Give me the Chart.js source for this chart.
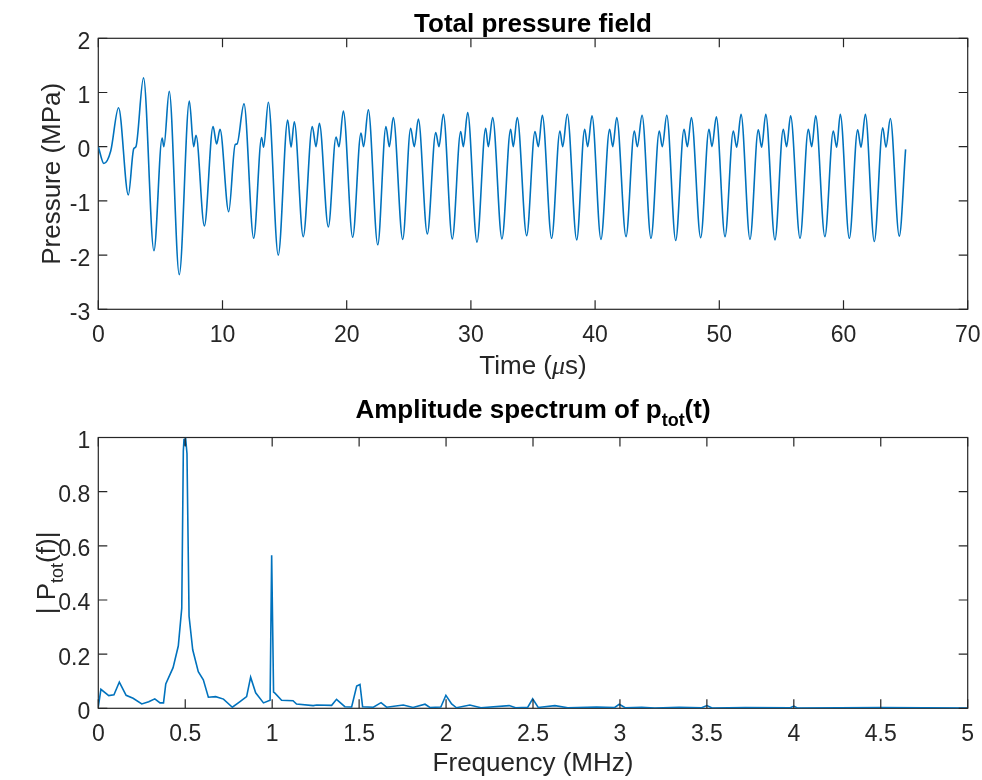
<!DOCTYPE html>
<html>
<head>
<meta charset="utf-8">
<script src="https://cdn.jsdelivr.net/npm/chart.js@4.4.0/dist/chart.umd.min.js"></script>
<style>
  body { margin: 0; background: #fff; width: 982px; height: 780px; overflow: hidden; position: relative; }
  canvas { position: absolute; left: 0; }
  #topChart { top: 0; }
  #botChart { top: 390px; }
</style>
</head>
<body>
<canvas id="topChart" width="982" height="390"></canvas>
<canvas id="botChart" width="982" height="390"></canvas>
<script>
// total pressure field (peaks, dips and troughs)
const timeUs = [
  0, 0.45, 1.0, 1.63, 2.42, 2.85, 3.03, 3.64, 4.48, 5.14, 5.28, 5.71,
  6.52, 7.33, 7.68, 7.87, 8.54, 9.24, 9.53, 9.8, 10.5, 11.02, 11.17, 11.73,
  12.51, 13.15, 13.31, 13.69, 14.49, 15.25, 15.52, 15.78,
  16.5, 17.23, 17.53, 17.8, 18.52, 19.14, 19.38, 19.73,
  20.48, 21.15, 21.36, 21.74, 22.5, 23.16, 23.43, 23.75,
  24.51, 25.15, 25.44, 25.77, 26.49, 27.17, 27.43, 27.78,
  28.5, 29.18, 29.39, 29.74, 30.49, 31.19, 31.4, 31.75,
  32.5, 33.2, 33.41, 33.73, 34.49, 35.16, 35.43, 35.75,
  36.5, 37.17, 37.39, 37.76, 38.52, 39.16, 39.4, 39.75,
  40.47, 41.17, 41.42, 41.74, 42.49, 43.16, 43.4, 43.78,
  44.5, 45.17, 45.41, 45.77, 46.49, 47.16, 47.43, 47.75,
  48.5, 49.17, 49.41, 49.76, 50.46, 51.13, 51.4, 51.75,
  52.47, 53.14, 53.41, 53.74, 54.48, 55.15, 55.42, 55.74,
  56.5, 57.17, 57.44, 57.76, 58.5, 59.18, 59.45, 59.74,
  60.47, 61.14, 61.41, 61.76, 62.48, 63.16, 63.42, 63.77,
  64.49, 65.0
];
const pressureMPa = [
  0, -0.31, -0.08, 0.72, -0.89, -0.04, 0.0, 1.27, -1.92, 0.16, 0.0, 1.02,
  -2.36, 0.84, 0.0, 0.21, -1.46, 0.37, 0.05, 0.32, -1.2, 0.04, 0.05, 0.79,
  -1.69, 0.17, -0.01, 0.82, -2.0, 0.49, -0.01, 0.46,
  -1.66, 0.37, 0.0, 0.43, -1.48, 0.18, 0.0, 0.66,
  -1.67, 0.25, 0.0, 0.68, -1.81, 0.37, 0.0, 0.54,
  -1.71, 0.34, 0.0, 0.51, -1.61, 0.26, 0.0, 0.6,
  -1.7, 0.28, 0.0, 0.63, -1.76, 0.34, 0.0, 0.54,
  -1.7, 0.32, 0.0, 0.54, -1.64, 0.28, 0.0, 0.58,
  -1.69, 0.29, 0.0, 0.6, -1.72, 0.32, 0.0, 0.57,
  -1.71, 0.32, 0.0, 0.54, -1.66, 0.29, 0.0, 0.58,
  -1.69, 0.29, 0.0, 0.58, -1.73, 0.32, 0.0, 0.54,
  -1.68, 0.32, 0.0, 0.55, -1.66, 0.29, -0.01, 0.6,
  -1.71, 0.31, -0.01, 0.6, -1.72, 0.32, 0.0, 0.57,
  -1.69, 0.32, 0.0, 0.57, -1.66, 0.29, -0.01, 0.6,
  -1.69, 0.31, -0.01, 0.6, -1.75, 0.35, -0.01, 0.52,
  -1.65, -0.05
];

// amplitude spectrum
const freqMHz = [
  0, 0.015, 0.06, 0.09, 0.121, 0.16, 0.2, 0.25, 0.29, 0.325, 0.355, 0.375,
  0.388, 0.43, 0.46, 0.48, 0.489, 0.493, 0.497, 0.502, 0.51, 0.522, 0.543,
  0.575, 0.604, 0.633, 0.675, 0.72, 0.771, 0.815, 0.853, 0.876, 0.905, 0.95,
  0.988, 0.997, 1.008, 1.016, 1.054, 1.12, 1.14, 1.236, 1.256, 1.342, 1.37,
  1.418, 1.457, 1.486, 1.505, 1.52, 1.582, 1.626, 1.658, 1.754, 1.81, 1.879,
  1.907, 1.97, 1.999, 2.032, 2.06, 2.137, 2.2, 2.363, 2.4, 2.47, 2.498, 2.53,
  2.626, 2.7, 2.866, 2.97, 2.996, 3.03, 3.125, 3.2, 3.34, 3.47, 3.5, 3.53,
  3.72, 3.98, 4.0, 4.02, 4.5, 5.0
];
const ampSpectrum = [
  0.005, 0.07, 0.047, 0.05, 0.097, 0.048, 0.037, 0.016, 0.024, 0.035, 0.02, 0.02,
  0.09, 0.15, 0.23, 0.37, 0.95, 0.995, 0.97, 1.0, 0.94, 0.34, 0.216,
  0.135, 0.105, 0.041, 0.043, 0.034, 0.004, 0.025, 0.043, 0.115, 0.057, 0.02,
  0.03, 0.565, 0.06, 0.056, 0.03, 0.028, 0.016, 0.01, 0.012, 0.011, 0.033,
  0.006, 0.005, 0.082, 0.088, 0.006, 0.004, 0.021, 0.004, 0.012, 0.003, 0.015,
  0.003, 0.005, 0.048, 0.016, 0.002, 0.012, 0.002, 0.01, 0.002, 0.004, 0.035, 0.003,
  0.01, 0.002, 0.005, 0.003, 0.015, 0.002, 0.004, 0.001, 0.004, 0.002, 0.01, 0.001,
  0.003, 0.002, 0.008, 0.001, 0.003, 0.001
];

const timeTicks = [0, 10, 20, 30, 40, 50, 60, 70];
const pressureTicks = [-3, -2, -1, 0, 1, 2];
const freqTicks = [0, 0.5, 1, 1.5, 2, 2.5, 3, 3.5, 4, 4.5, 5];
const ampTicks = [0, 0.2, 0.4, 0.6, 0.8, 1];

const FONT = '"Liberation Sans", Arial, Helvetica, sans-serif';
const INK = '#262626';
const LINE = '#0072BD';

Chart.defaults.font.family = FONT;
Chart.defaults.color = INK;

// draws text pieces side by side, centred on (x, y), optional rotation
function richText(ctx, parts, x, y, rot, color) {
  ctx.save();
  ctx.translate(x, y);
  if (rot) ctx.rotate(rot);
  ctx.fillStyle = color || INK;
  ctx.textAlign = 'left';
  ctx.textBaseline = 'alphabetic';
  let w = 0;
  parts.forEach(p => { ctx.font = p[1]; w += ctx.measureText(p[0]).width; });
  let cx = -w / 2;
  parts.forEach(p => {
    ctx.font = p[1];
    ctx.fillText(p[0], cx, p[2] || 0);
    cx += ctx.measureText(p[0]).width;
  });
  ctx.restore();
}

// matlab-ish box with inward ticks, tick labels, title and axis labels
const matlabAxes = {
  id: 'matlabAxes',
  beforeDatasetsDraw(chart) {
    const a = chart.chartArea, ctx = chart.ctx;
    ctx.save();
    ctx.strokeStyle = INK;
    ctx.lineWidth = 1.2;
    ctx.strokeRect(a.left, a.top, a.right - a.left, a.bottom - a.top);
    ctx.restore();
  },
  afterDraw(chart, args, o) {
    const a = chart.chartArea, ctx = chart.ctx;
    const xs = chart.scales.x, ys = chart.scales.y;
    const len = 9;
    ctx.save();
    ctx.strokeStyle = INK;
    ctx.lineWidth = 1.2;
    ctx.beginPath();
    xs.ticks.forEach(t => {
      const px = xs.getPixelForValue(t.value);
      ctx.moveTo(px, a.bottom); ctx.lineTo(px, a.bottom - len);
      ctx.moveTo(px, a.top); ctx.lineTo(px, a.top + len);
    });
    ys.ticks.forEach(t => {
      const py = ys.getPixelForValue(t.value);
      ctx.moveTo(a.left, py); ctx.lineTo(a.left + len, py);
      ctx.moveTo(a.right, py); ctx.lineTo(a.right - len, py);
    });
    ctx.stroke();

    ctx.fillStyle = INK;
    ctx.font = '23px ' + FONT;
    ctx.textBaseline = 'alphabetic';
    ctx.textAlign = 'center';
    xs.ticks.forEach(t => {
      ctx.fillText(String(t.value), xs.getPixelForValue(t.value), a.bottom + 32.4);
    });
    ctx.textAlign = 'right';
    ys.ticks.forEach(t => {
      ctx.fillText(String(t.value), a.left - 8, ys.getPixelForValue(t.value) + 10.5);
    });
    ctx.restore();

    const cx = (a.left + a.right) / 2, cy = (a.top + a.bottom) / 2;
    richText(ctx, o.title, cx, o.titleY, 0, '#000');
    richText(ctx, o.xLabel, cx, o.xLabelY);
    richText(ctx, o.yLabel, o.yLabelX, cy, -Math.PI / 2);
  }
};

function fixedTicks(arr) {
  return scale => { scale.ticks = arr.map(v => ({ value: v })); };
}

const big = '26px ' + FONT;
const bold = 'bold 26px ' + FONT;

function axisOpts(min, max, ticks, isX) {
  return {
    type: 'linear', min: min, max: max,
    afterBuildTicks: fixedTicks(ticks),
    afterFit: isX ? (s => { s.height = 60; }) : (s => { s.width = 70; }),
    grid: { display: false, drawTicks: false },
    border: { display: false },
    ticks: { display: false }
  };
}

const topConfig = {
  type: 'line',
  data: {
    datasets: [{
      data: timeUs.map((t, i) => ({ x: t, y: pressureMPa[i] })),
      borderColor: LINE,
      borderWidth: 1.6,
      pointRadius: 0,
      cubicInterpolationMode: 'monotone',
      fill: false
    }]
  },
  options: {
    responsive: false,
    animation: false,
    layout: { padding: { left: 28.3, top: 38.3, right: 14.3, bottom: 20.7 } },
    plugins: {
      legend: { display: false },
      tooltip: { enabled: false },
      matlabAxes: {
        title: [['Total pressure field', bold]],
        titleY: 31.7,
        xLabel: [['Time (', big], ['\u03bc', 'italic 26px "Liberation Serif", serif'], ['s)', big]],
        xLabelY: 374,
        yLabel: [['Pressure (MPa)', big]],
        yLabelX: 60
      }
    },
    scales: {
      x: axisOpts(0, 70, timeTicks, true),
      y: axisOpts(-3, 2, pressureTicks, false)
    }
  },
  plugins: [matlabAxes]
};

const botConfig = {
  type: 'line',
  data: {
    datasets: [{
      data: freqMHz.map((f, i) => ({ x: f, y: ampSpectrum[i] })),
      borderColor: LINE,
      borderWidth: 1.6,
      pointRadius: 0,
      tension: 0,
      fill: false
    }]
  },
  options: {
    responsive: false,
    animation: false,
    layout: { padding: { left: 28.3, top: 47.5, right: 14.3, bottom: 11.7 } },
    plugins: {
      legend: { display: false },
      tooltip: { enabled: false },
      matlabAxes: {
        title: [['Amplitude spectrum of p', bold], ['tot', 'bold 18px ' + FONT, 8], ['(t)', bold]],
        titleY: 28.3,
        xLabel: [['Frequency (MHz)', big]],
        xLabelY: 381,
        yLabel: [['| P', big], ['tot', '18px ' + FONT, 8], ['(f)|', big]],
        yLabelX: 55
      }
    },
    scales: {
      x: axisOpts(0, 5, freqTicks, true),
      y: axisOpts(0, 1, ampTicks, false)
    }
  },
  plugins: [matlabAxes]
};

const topChart = new Chart(document.getElementById('topChart'), topConfig);
const botChart = new Chart(document.getElementById('botChart'), botConfig);
</script>
</body>
</html>
